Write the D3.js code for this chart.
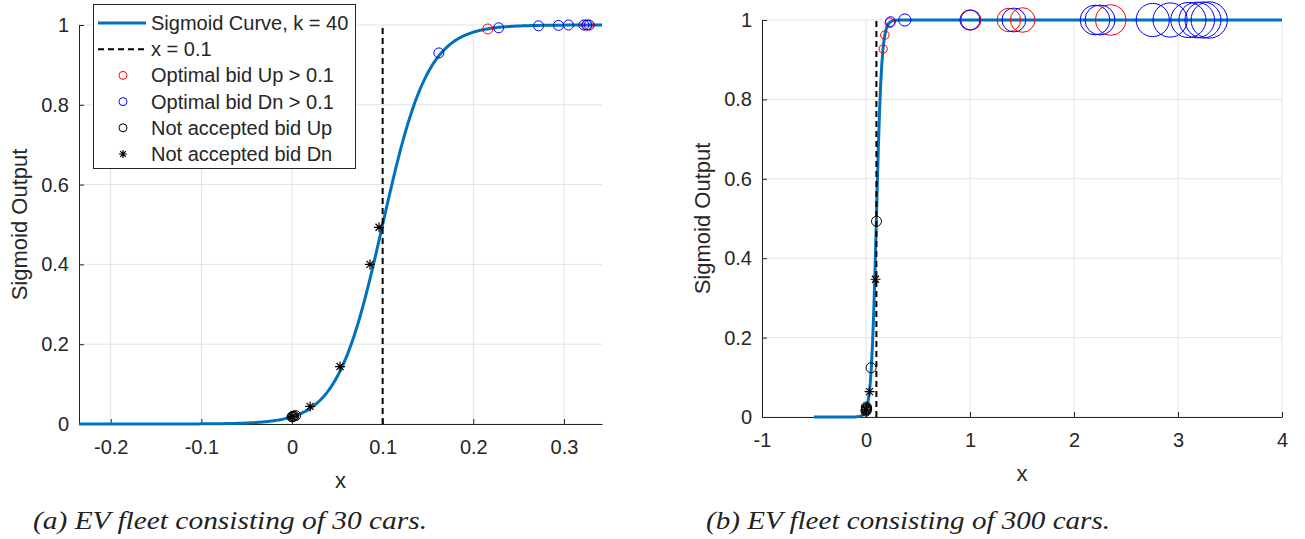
<!DOCTYPE html>
<head>
    <script src="https://d3js.org/d3.v7.min.js"></script>
</head>
<style>
body { margin: 0; background: #fff; }
text { font-family: "Liberation Sans", Arial, Helvetica, sans-serif; fill: #262626; }
.caption { font-family: "Liberation Serif", "DejaVu Serif", serif; font-style: italic; fill: #222; }
</style>
<body>
<svg></svg>
<script>

    // Variables
    var width = 1305;
    var height = 539;
    var k = 40;          // sigmoid steepness
    var x0 = 0.1;        // threshold

    var xTicksA = [-0.2, -0.1, 0, 0.1, 0.2, 0.3];
    var xTicksB = [-1, 0, 1, 2, 3, 4];
    var yTicks = [0, 0.2, 0.4, 0.6, 0.8, 1];

    // panel (a), 30 cars
    var aUpX = [0.216, 0.326];
    var aUpY = [0.990, 1.000];
    var aDnX = [0.162, 0.228, 0.272, 0.294, 0.305, 0.322, 0.325, 0.328];
    var aDnY = [0.930, 0.993, 0.998, 0.999, 1.000, 1.000, 1.000, 1.000];
    var aNotUpX = [0.000, 0.001, 0.002, 0.004];
    var aNotUpY = [0.018, 0.019, 0.020, 0.021];
    var aNotDnX = [0.096, 0.086, 0.053, 0.020, 0.000, 0.001];
    var aNotDnY = [0.493, 0.400, 0.144, 0.044, 0.018, 0.019];

    // panel (b), 300 cars
    var bUpX = [0.165, 0.181, 0.229, 1.009, 1.374, 1.506, 2.353];
    var bUpY = [0.927, 0.962, 0.993, 1.000, 1.000, 1.000, 1.000];
    var bDnX = [0.236, 0.373, 0.999, 1.422, 2.202, 2.250, 2.757, 2.924, 3.100, 3.180, 3.240, 3.300];
    var bDnY = [0.996, 1.000, 1.000, 1.000, 1.000, 1.000, 1.000, 1.000, 1.000, 1.000, 1.000, 1.000];
    var bNotUpX = [0.101, 0.049, 0.000, 0.002, 0.004, 0.006, 0.003];
    var bNotUpY = [0.493, 0.124, 0.015, 0.018, 0.020, 0.022, 0.025];
    var bNotDnX = [0.091, 0.034, 0.000, 0.003];
    var bNotDnY = [0.347, 0.064, 0.018, 0.020];

    var svg = d3.select('svg').attr('width', width).attr('height', height);

    function sigmoid(x) { return 1 / (1 + Math.exp(-k * (x - x0))); }

    function zip(xs, ys) { return xs.map(function (x, i) { return [x, ys[i]]; }); }

    function starPath(s) {
        var d = 0.7 * s;
        return 'M' + (-s) + ',0L' + s + ',0M0,' + (-s) + 'L0,' + s +
            'M' + (-d) + ',' + (-d) + 'L' + d + ',' + d + 'M' + (-d) + ',' + d + 'L' + d + ',' + (-d);
    }

    function drawPanel(opt) {
        var x = d3.scaleLinear().domain(opt.xDomain).range([opt.left, opt.right]);
        var y = d3.scaleLinear().domain([0, 1]).range([opt.bottom, opt.top]);
        var g = svg.append('g');

        // grid
        g.selectAll('line.gx').data(opt.xTicks).enter().append('line')
            .attr('x1', function (d) { return x(d); }).attr('x2', function (d) { return x(d); })
            .attr('y1', opt.top).attr('y2', opt.bottom)
            .style('stroke', '#e3e3e3').style('stroke-width', 1);
        g.selectAll('line.gy').data(yTicks).enter().append('line')
            .attr('y1', function (d) { return y(d); }).attr('y2', function (d) { return y(d); })
            .attr('x1', opt.left).attr('x2', opt.right)
            .style('stroke', '#e3e3e3').style('stroke-width', 1);

        // axes (ticks inward, MATLAB style)
        var xAxis = g.append('g').attr('transform', 'translate(0,' + opt.bottom + ')')
            .call(d3.axisBottom(x).tickValues(opt.xTicks).tickSizeInner(-5).tickSizeOuter(0).tickPadding(15)
                .tickFormat(function (d) { return String(d); }));
        var yAxis = g.append('g').attr('transform', 'translate(' + opt.left + ',0)')
            .call(d3.axisLeft(y).tickValues(yTicks).tickSizeInner(-5).tickSizeOuter(0).tickPadding(10)
                .tickFormat(function (d) { return String(d); }));
        [xAxis, yAxis].forEach(function (a) {
            a.selectAll('path, line').style('stroke', '#262626');
            a.selectAll('text').style('font-size', '20px').style('fill', '#262626')
                .style('font-family', '"Liberation Sans", Arial, sans-serif');
        });
        xAxis.selectAll('text').attr('dy', '0.75em');

        // labels
        g.append('text').attr('x', (opt.left + opt.right) / 2).attr('y', opt.bottom + 64)
            .attr('text-anchor', 'middle').style('font-size', '22px').text('x');
        g.append('text')
            .attr('transform', 'translate(' + (opt.left - 52) + ',' + ((opt.top + opt.bottom) / 2) + ')rotate(-90)')
            .attr('text-anchor', 'middle').style('font-size', '22px').text('Sigmoid Output');

        // sigmoid curve
        var n = 400;
        var xs = d3.range(n + 1).map(function (i) { return opt.curve[0] + (opt.curve[1] - opt.curve[0]) * i / n; });
        var line = d3.line().x(function (d) { return x(d); }).y(function (d) { return y(sigmoid(d)); });
        g.append('path').datum(xs).attr('d', line)
            .style('fill', 'none').style('stroke', '#0072BD').style('stroke-width', 3);

        // threshold
        g.append('line').attr('x1', x(x0)).attr('x2', x(x0)).attr('y1', y(0)).attr('y2', y(1))
            .style('stroke', '#000').style('stroke-width', 2).style('stroke-dasharray', '6,4');

        // markers
        function circles(pts, color, rFn) {
            g.selectAll(null).data(pts).enter().append('circle')
                .attr('cx', function (d) { return x(d[0]); })
                .attr('cy', function (d) { return y(d[1]); })
                .attr('r', rFn)
                .style('fill', 'none').style('stroke', color).style('stroke-width', 1);
        }
        circles(zip(opt.upX, opt.upY), '#ff0000', opt.r);
        circles(zip(opt.dnX, opt.dnY), '#0000ff', opt.r);
        circles(zip(opt.notUpX, opt.notUpY), '#000', function () { return 5; });
        g.selectAll(null).data(zip(opt.notDnX, opt.notDnY)).enter().append('path')
            .attr('transform', function (d) { return 'translate(' + x(d[0]) + ',' + y(d[1]) + ')'; })
            .attr('d', starPath(5))
            .style('fill', 'none').style('stroke', '#000').style('stroke-width', 1.2);

        // caption
        svg.append('text').attr('class', 'caption')
            .attr('x', opt.capX).attr('y', 529)
            .attr('textLength', opt.capW).attr('lengthAdjust', 'spacingAndGlyphs')
            .style('font-size', '26px').text(opt.caption);

        return g;
    }

    drawPanel({
        xDomain: [-0.235, 0.342], xTicks: xTicksA, curve: [-0.235, 0.342],
        left: 79, right: 602, top: 25, bottom: 424,
        upX: aUpX, upY: aUpY, dnX: aDnX, dnY: aDnY,
        notUpX: aNotUpX, notUpY: aNotUpY, notDnX: aNotDnX, notDnY: aNotDnY,
        r: function () { return 5; },
        caption: '(a) EV fleet consisting of 30 cars.', capX: 33, capW: 394
    });

    var sizeB = d3.scaleSqrt().domain([0, 1]).range([0, 10]);
    drawPanel({
        xDomain: [-1, 4], xTicks: xTicksB, curve: [-0.5, 4],
        left: 762, right: 1282, top: 20, bottom: 417,
        upX: bUpX, upY: bUpY, dnX: bDnX, dnY: bDnY,
        notUpX: bNotUpX, notUpY: bNotUpY, notDnX: bNotDnX, notDnY: bNotDnY,
        r: function (d) { return sizeB(d[0]); },
        caption: '(b) EV fleet consisting of 300 cars.', capX: 706, capW: 404
    });

    // legend (panel a)
    var legendItems = ['Sigmoid Curve, k = 40', 'x = 0.1', 'Optimal bid Up > 0.1',
        'Optimal bid Dn > 0.1', 'Not accepted bid Up', 'Not accepted bid Dn'];
    var lg = svg.append('g');
    lg.append('rect').attr('x', 93.5).attr('y', 4.5).attr('width', 262).attr('height', 164)
        .style('fill', '#fff').style('stroke', '#262626').style('stroke-width', 1);
    var rowY = d3.scalePoint().domain(legendItems).range([23, 154]);
    lg.selectAll('text.lt').data(legendItems).enter().append('text')
        .attr('x', 151).attr('y', function (d) { return rowY(d); }).attr('dy', '0.35em')
        .style('font-size', '20px').text(function (d) { return d; });
    lg.append('line').attr('x1', 98).attr('x2', 146).attr('y1', rowY(legendItems[0])).attr('y2', rowY(legendItems[0]))
        .style('stroke', '#0072BD').style('stroke-width', 3);
    lg.append('line').attr('x1', 98).attr('x2', 146).attr('y1', rowY(legendItems[1])).attr('y2', rowY(legendItems[1]))
        .style('stroke', '#000').style('stroke-width', 2).style('stroke-dasharray', '6,4');
    [['#ff0000', 2], ['#0000ff', 3], ['#000', 4]].forEach(function (c) {
        lg.append('circle').attr('cx', 123).attr('cy', rowY(legendItems[c[1]])).attr('r', 4)
            .style('fill', 'none').style('stroke', c[0]).style('stroke-width', 1);
    });
    lg.append('path').attr('transform', 'translate(123,' + rowY(legendItems[5]) + ')')
        .attr('d', starPath(4)).style('stroke', '#000').style('stroke-width', 1.2);

</script>
</body>
